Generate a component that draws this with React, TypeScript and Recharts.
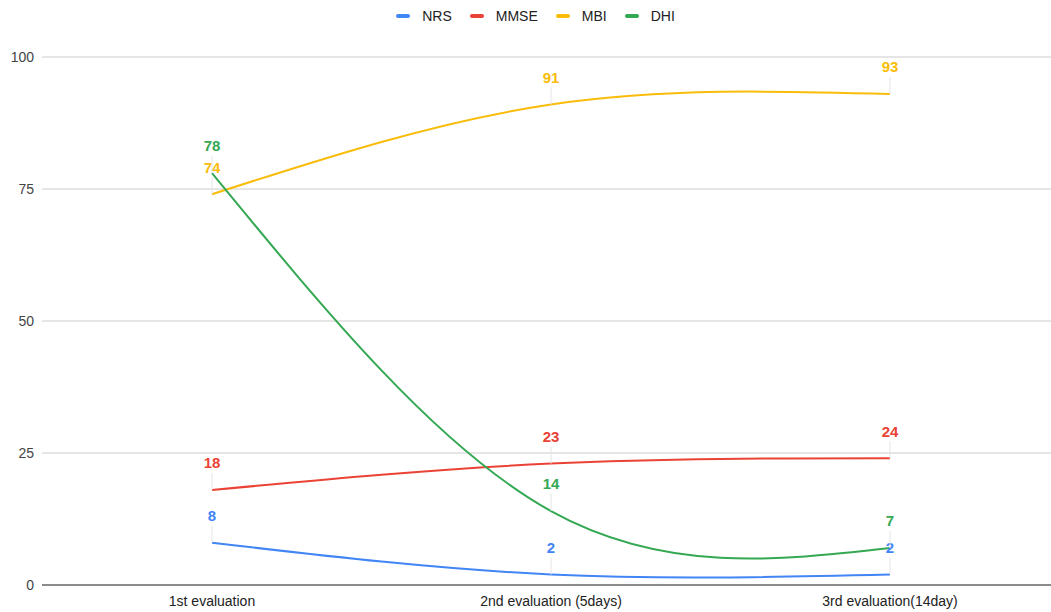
import { LineChart, Line, XAxis, YAxis, CartesianGrid } from 'recharts';

const categories = ['1st evaluation', '2nd evaluation (5days)', '3rd evaluation(14day)'];
const nrs = [8, 2, 2];
const mmse = [18, 23, 24];
const mbi = [74, 91, 93];
const dhi = [78, 14, 7];
const yTicks = [0, 25, 50, 75, 100];

const series = [
    { key: 'NRS', color: '#4285F4' },
    { key: 'MMSE', color: '#EA4335' },
    { key: 'MBI', color: '#F9BC0A' },
    { key: 'DHI', color: '#34A853' },
];

const data = categories.map((name, i) => ({
    name,
    NRS: nrs[i],
    MMSE: mmse[i],
    MBI: mbi[i],
    DHI: dhi[i],
}));

const font = 'Arial, "Liberation Sans", sans-serif';

const makeLabel = (color: string) => (props: any) => {
    const { x, y, value } = props;
    return (
        <g>
            <line x1={x} x2={x} y1={y - 17} y2={y} stroke="#e4e4e4" strokeWidth={1} />
            <text
                x={x}
                y={y - 27}
                dy="0.35em"
                textAnchor="middle"
                fill={color}
                fontSize={15}
                fontWeight="bold"
                fontFamily={font}
            >
                {value}
            </text>
        </g>
    );
};

function TopLegend() {
    return (
        <div
            style={{
                position: 'absolute',
                top: 8,
                left: 0,
                width: 1051,
                display: 'flex',
                justifyContent: 'center',
                gap: 18,
                fontFamily: font,
                fontSize: 14,
                color: '#222',
                paddingLeft: 20,
                boxSizing: 'border-box',
            }}
        >
            {series.map((s) => (
                <div key={s.key} style={{ display: 'flex', alignItems: 'center', gap: 12 }}>
                    <span
                        style={{
                            display: 'inline-block',
                            width: 14,
                            height: 4,
                            borderRadius: 2,
                            background: s.color,
                        }}
                    />
                    <span>{s.key}</span>
                </div>
            ))}
        </div>
    );
}

export default function App() {
    return (
        <div style={{ position: 'absolute', left: 0, top: 0, width: 1051, height: 612, background: '#fff', overflow: 'hidden' }}>
            <TopLegend />
            <LineChart width={1051} height={612} data={data} margin={{ top: 57, right: 0, bottom: 0, left: 0 }}>
                <CartesianGrid vertical={false} stroke="#cccccc" />
                <XAxis
                    dataKey="name"
                    scale="point"
                    padding={{ left: 170, right: 161 }}
                    height={27}
                    tickLine={false}
                    tickMargin={5}
                    axisLine={{ stroke: '#333333' }}
                    tick={{ fill: '#222', fontSize: 14, fontFamily: font }}
                />
                <YAxis
                    domain={[0, 100]}
                    ticks={yTicks}
                    width={42}
                    axisLine={false}
                    tickLine={false}
                    tick={{ fill: '#444', fontSize: 14, fontFamily: font }}
                />
                {series.map((s) => (
                    <Line
                        key={s.key}
                        type="natural"
                        dataKey={s.key}
                        stroke={s.color}
                        strokeWidth={2}
                        dot={false}
                        activeDot={false}
                        isAnimationActive={false}
                        label={makeLabel(s.color)}
                    />
                ))}
            </LineChart>
        </div>
    );
}
